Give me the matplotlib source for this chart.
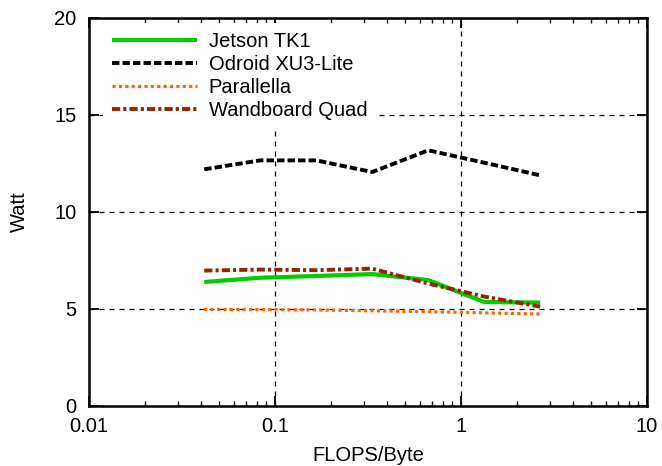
import matplotlib
matplotlib.use("Agg")
import matplotlib.pyplot as plt
from matplotlib.ticker import LogLocator, FixedLocator, NullFormatter, FixedFormatter

plt.rcParams['font.family'] = ['Liberation Sans', 'DejaVu Sans']

flops_per_byte = [1/24, 1/12, 1/6, 1/3, 2/3, 4/3, 8/3]
jetson = [6.39, 6.61, 6.70, 6.80, 6.49, 5.36, 5.33]
odroid = [12.20, 12.66, 12.66, 12.06, 13.18, 12.54, 11.89]
parallella = [4.98, 4.97, 4.95, 4.91, 4.86, 4.80, 4.74]
wandboard = [6.98, 7.03, 7.00, 7.08, 6.31, 5.64, 5.12]

series_names = ["Jetson TK1", "Odroid XU3-Lite", "Parallella", "Wandboard Quad"]
x_ticks = [0.01, 0.1, 1, 10]
x_tick_labels = ["0.01", "0.1", "1", "10"]
y_ticks = [0, 5, 10, 15, 20]

FS = 14.5

fig = plt.figure(figsize=(6.62, 4.66), dpi=100)
ax = fig.add_axes([0.1344, 0.1288, 0.8429, 0.8326])

ax.plot(flops_per_byte, jetson, color='#00cc00', lw=3.0, solid_capstyle='butt', label=series_names[0])
ax.plot(flops_per_byte, odroid, color='black', lw=2.8, dashes=(1.9, 0.8), label=series_names[1])
ax.plot(flops_per_byte, parallella, color='#ff6600', lw=2.3, dashes=(1.0, 1.0), label=series_names[2])
ax.plot(flops_per_byte, wandboard, color='#992200', lw=2.8, dashes=(2.1, 0.8, 0.8, 0.8), label=series_names[3])

ax.set_xscale('log')
ax.set_xlim(0.01, 10)
ax.set_ylim(0, 20)
ax.xaxis.set_major_locator(FixedLocator(x_ticks))
ax.xaxis.set_major_formatter(FixedFormatter(x_tick_labels))
ax.xaxis.set_minor_locator(LogLocator(base=10, subs=range(2, 10)))
ax.xaxis.set_minor_formatter(NullFormatter())
ax.yaxis.set_major_locator(FixedLocator(y_ticks))

ax.grid(True, which='major', color='black', linestyle=(0, (4, 4)), linewidth=0.9)
ax.tick_params(which='both', direction='in', top=True, right=True, labelsize=FS)
ax.tick_params(which='major', length=7, width=1.3)
ax.tick_params(which='minor', length=3.5, width=1.0)
ax.tick_params(axis='x', which='major', pad=8)
ax.tick_params(axis='y', which='major', pad=9)
for s in ax.spines.values():
    s.set_linewidth(1.8)

ax.set_xlabel("FLOPS/Byte", fontsize=FS, labelpad=7)
ax.set_ylabel("Watt", fontsize=FS, labelpad=18)

leg = ax.legend(loc='upper left', frameon=True, fontsize=FS, handlelength=4.2,
                handletextpad=0.6, borderaxespad=0.0, borderpad=0.45,
                labelspacing=0.2, bbox_to_anchor=(0.025, 0.988))
leg.get_frame().set_facecolor('white')
leg.get_frame().set_edgecolor('none')
leg.get_frame().set_alpha(1.0)
leg.get_frame().set_boxstyle('square', pad=0.0)

fig.savefig("out.png", dpi=100)
